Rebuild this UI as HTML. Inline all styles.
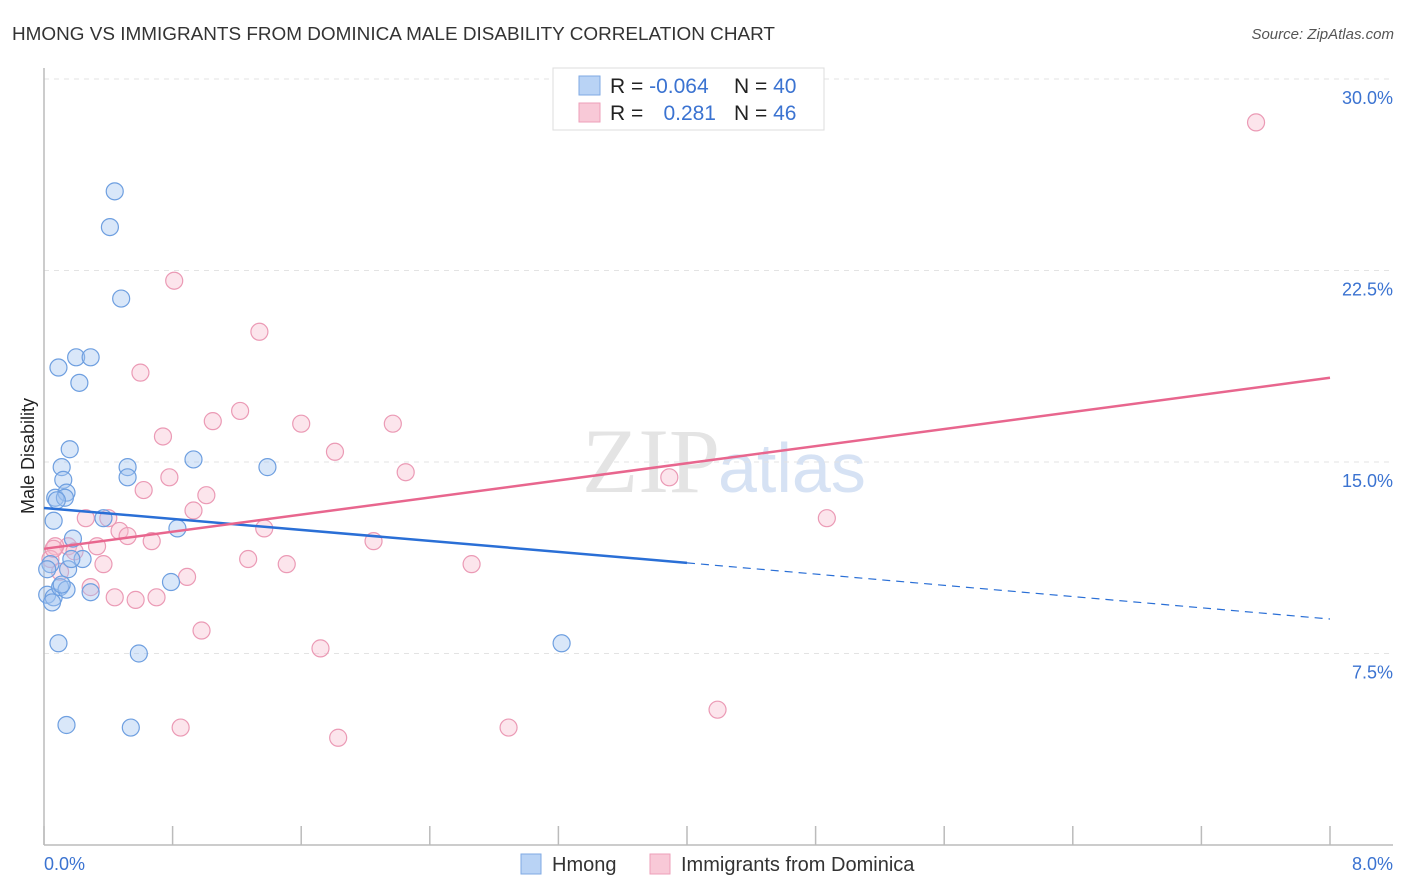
<!DOCTYPE html>
<html><head><meta charset="utf-8"><style>
body{margin:0;background:#fff;font-family:"Liberation Sans",sans-serif;}
svg{display:block}
</style></head><body>
<svg id="chart" width="1406" height="892" xmlns="http://www.w3.org/2000/svg">
<text x="12" y="40" font-size="18" fill="#333" textLength="763" lengthAdjust="spacingAndGlyphs">HMONG VS IMMIGRANTS FROM DOMINICA MALE DISABILITY CORRELATION CHART</text>
<text x="1394" y="39" font-size="15" fill="#555" font-style="italic" text-anchor="end">Source: ZipAtlas.com</text>
<text x="720" y="492" font-size="92" fill="#e4e4e4" text-anchor="end" font-family="Liberation Serif,serif">ZIP</text>
<text x="718" y="492" font-size="70" fill="#d6e2f4">atlas</text>
<g id="grid"></g>
<g id="axes"></g>
<g id="pts"></g>
<g id="trend"></g>
<text transform="translate(34,456) rotate(-90)" font-size="18" fill="#222" text-anchor="middle">Male Disability</text>
<g>
<rect x="553" y="68" width="271" height="62" fill="#fff" stroke="#ddd"/>
<rect x="579" y="76" width="21" height="19" fill="#b9d3f5" stroke="#7fa9e3"/>
<rect x="579" y="103" width="21" height="19" fill="#f8c9d7" stroke="#ee9fb9"/>
<text x="610" y="93" font-size="21" fill="#222">R = <tspan fill="#3b73d1">-0.064</tspan></text>
<text x="734" y="93" font-size="21" fill="#222">N = <tspan fill="#3b73d1">40</tspan></text>
<text x="610" y="120" font-size="21" fill="#222">R = </text>
<text x="716" y="120" font-size="21" fill="#3b73d1" text-anchor="end">0.281</text>
<text x="734" y="120" font-size="21" fill="#222">N = <tspan fill="#3b73d1">46</tspan></text>
</g>
<g>
<rect x="521" y="854" width="20" height="20" fill="#b9d3f5" stroke="#7fa9e3"/>
<text x="552" y="871" font-size="20" fill="#333">Hmong</text>
<rect x="650" y="854" width="20" height="20" fill="#f8c9d7" stroke="#ee9fb9"/>
<text x="681" y="871" font-size="20" fill="#333">Immigrants from Dominica</text>
</g>
</svg>
<script>
const blueX=[0.44,0.41,0.48,0.09,0.20,0.29,0.22,0.16,0.11,0.52,0.12,0.52,0.93,1.39,0.07,0.14,0.13,0.06,0.37,0.83,0.18,0.04,0.15,0.24,0.02,0.06,0.10,0.14,0.29,0.79,0.09,0.59,0.14,0.54,3.22,0.05,0.02,0.08,0.11,0.17];
const blueY=[25.6,24.2,21.4,18.7,19.1,19.1,18.1,15.5,14.8,14.8,14.3,14.4,15.1,14.8,13.6,13.8,13.6,12.7,12.8,12.4,12.0,11.0,10.8,11.2,9.8,9.7,10.1,10.0,9.9,10.3,7.9,7.5,4.7,4.6,7.9,9.5,10.8,13.5,10.2,11.2];
const pinkX=[7.54,0.81,1.34,0.60,1.22,1.05,1.60,2.17,0.74,1.81,2.25,3.89,0.78,0.62,1.01,0.93,0.26,0.40,4.87,0.47,1.37,0.52,0.67,2.05,0.33,0.15,0.07,0.19,0.04,1.27,1.51,2.66,0.37,0.10,0.29,0.89,0.44,0.57,0.70,0.98,1.72,4.19,0.85,2.89,1.83,0.06];
const pinkY=[28.3,22.1,20.1,18.5,17.0,16.6,16.5,16.5,16.0,15.4,14.6,14.4,14.4,13.9,13.7,13.1,12.8,12.8,12.8,12.3,12.4,12.1,11.9,11.9,11.7,11.7,11.7,11.5,11.2,11.2,11.0,11.0,11.0,10.7,10.1,10.5,9.7,9.6,9.7,8.4,7.7,5.3,4.6,4.6,4.2,11.6];
const yTicks=[7.5,15.0,22.5,30.0];
const yTickLabels=["7.5%","15.0%","22.5%","30.0%"];
const xTicks=[0,0.8,1.6,2.4,3.2,4.0,4.8,5.6,6.4,7.2,8.0];
const blueTrendX=[0,4.0,8.0];
const blueTrendY=[13.2,11.05,8.85];
const pinkTrendX=[0,8.0];
const pinkTrendY=[11.6,18.3];

const NS="http://www.w3.org/2000/svg";
const X0=44,X1=1330,Y0=845,YTOP=79;
function sx(v){return X0+v/8*(X1-X0);}
function sy(v){return Y0-v/30*(Y0-YTOP);}
function mk(tag,attrs,parent){const e=document.createElementNS(NS,tag);for(const k in attrs)e.setAttribute(k,attrs[k]);parent.appendChild(e);return e;}
const grid=document.getElementById('grid'),axes=document.getElementById('axes'),pts=document.getElementById('pts'),trend=document.getElementById('trend');
yTicks.forEach((t,i)=>{
 const l=mk('line',{x1:X0,x2:1393,y1:sy(t),y2:sy(t),stroke:'#e3e3e3','stroke-dasharray':'5,5'},grid);
 
 
 const tx=mk('text',{x:1393,y:sy(t)+25,'font-size':18,fill:'#3b73d1','text-anchor':'end'},axes);
 tx.textContent=yTickLabels[i];
 
 
});
let a=mk('line',{x1:X0,x2:X0,y1:68,y2:Y0,stroke:'#bbb','stroke-width':1.5},axes);


a=mk('line',{x1:X0,x2:1393,y1:Y0,y2:Y0,stroke:'#bbb','stroke-width':1.5},axes);


xTicks.forEach(t=>{
 const l=mk('line',{x1:sx(t),x2:sx(t),y1:826,y2:Y0,stroke:'#bbb','stroke-width':1.5},axes);
 
 
});
let t0=mk('text',{x:44,y:870,'font-size':18,fill:'#3b73d1'},axes);t0.textContent='0.0%';


let t1=mk('text',{x:1393,y:870,'font-size':18,fill:'#3b73d1','text-anchor':'end'},axes);t1.textContent='8.0%';


pinkX.forEach((v,i)=>{
 const c=mk('circle',{cx:sx(v),cy:sy(pinkY[i]),r:8.5,fill:'rgba(248,190,208,0.4)',stroke:'#eb9ab5','stroke-width':1.2},pts);
 
 
});
blueX.forEach((v,i)=>{
 const c=mk('circle',{cx:sx(v),cy:sy(blueY[i]),r:8.5,fill:'rgba(160,196,240,0.4)',stroke:'#6e9fe0','stroke-width':1.2},pts);
 
 
});
let l=mk('line',{x1:sx(blueTrendX[0]),y1:sy(blueTrendY[0]),x2:sx(blueTrendX[1]),y2:sy(blueTrendY[1]),stroke:'#2a6fd6','stroke-width':2.5},trend);


l=mk('line',{x1:sx(blueTrendX[1]),y1:sy(blueTrendY[1]),x2:sx(blueTrendX[2]),y2:sy(blueTrendY[2]),stroke:'#2a6fd6','stroke-width':1.2,'stroke-dasharray':'8,6'},trend);


l=mk('line',{x1:sx(pinkTrendX[0]),y1:sy(pinkTrendY[0]),x2:sx(pinkTrendX[1]),y2:sy(pinkTrendY[1]),stroke:'#e8668e','stroke-width':2.5},trend);


</script>
</body></html>
